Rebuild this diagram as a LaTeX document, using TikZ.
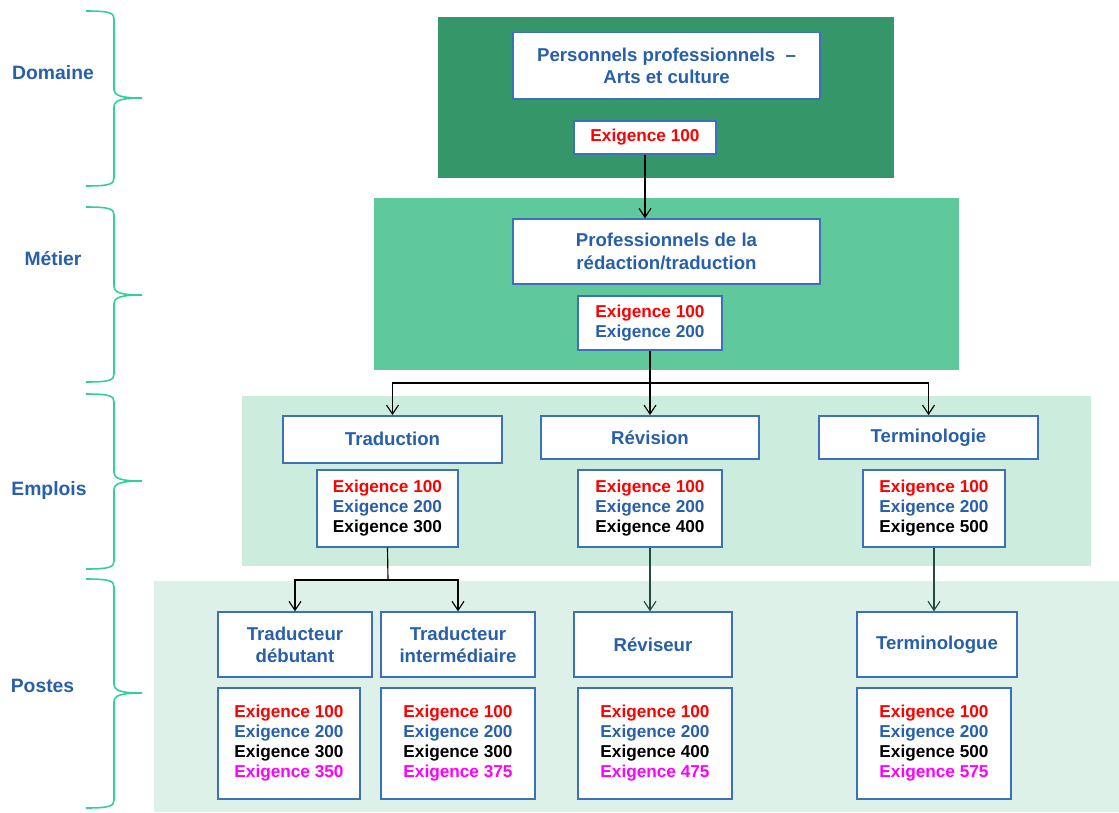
\documentclass[tikz,border=0pt]{standalone}
\usepackage{fontspec}
\setmainfont{Liberation Sans}
\usepackage{tikz}
\usetikzlibrary{arrows.meta}

\definecolor{txtblue}{RGB}{40,95,170}
\definecolor{boxblue}{RGB}{60,112,185}
\definecolor{exred}{RGB}{255,0,0}
\definecolor{exmag}{RGB}{255,0,255}
\definecolor{bracegreen}{RGB}{50,208,150}
\definecolor{bandone}{RGB}{52,150,105}
\definecolor{bandtwo}{RGB}{95,201,155}
\definecolor{bandthree}{RGB}{204,236,222}
\definecolor{bandfour}{RGB}{221,241,233}
\definecolor{linkgreen}{RGB}{35,75,65}

\newcommand{\req}[2]{\textcolor{#1}{Exigence #2}}

\tikzset{
  box/.style 2 args={draw=boxblue,fill=white,line width=0.8pt,inner sep=0pt,
    minimum width=#1cm,minimum height=#2cm,align=center},
  titre/.style={text=txtblue,font=\bfseries\fontsize{10.6}{12.6}\selectfont},
  exig/.style={font=\bfseries\fontsize{9.8}{11.4}\selectfont},
  niveau/.style={text=txtblue,font=\bfseries\fontsize{11}{13}\selectfont},
  brace/.style={draw=bracegreen,line width=0.9pt},
  link/.style={line width=0.65pt,-{Straight Barb[length=0.18cm,width=0.24cm]}},
}

\begin{document}
\begin{tikzpicture}[x=0.02cm,y=-0.02cm]
 \useasboundingbox[fill=white] (0,0) rectangle (1119,812);
 % bands
 \fill[bandone] (438,17) rectangle (894,178);
 \fill[bandtwo] (374,198) rectangle (959,370);
 \fill[bandthree] (242,396) rectangle (1091,566);
 \fill[bandfour] (154,581) rectangle (1119,812);
 % braces and levels
 \foreach \t/\m/\b in {11/98/186, 207/295/382, 394/481/569, 579/693/808}
   \draw[brace] (86,\t) .. controls (110,\t) and (114,\t+2) .. (114,\t+8) -- (114,\m-9)
     .. controls (114,\m-2) and (122,\m) .. (142,\m) .. controls (122,\m) and (114,\m+2) .. (114,\m+9)
     -- (114,\b-8) .. controls (114,\b-2) and (110,\b) .. (86,\b);
 \node[niveau] (ldom) at (53,73) {Domaine};
 \node[niveau] (lmet) at (53,259) {Métier};
 \node[niveau] (lemp) at (49,490) {Emplois};
 \node[niveau] (lpos) at (42.5,686) {Postes};
 % domaine
 \node[box={6.14}{1.34},titre] (dom) at (666.5,65.7) {Personnels professionnels \ –\\Arts et culture};
 \node[box={2.84}{0.66},exig] (domex) at (645,137.3) {\req{exred}{100}};
 % metier
 \node[box={6.14}{1.30},titre] (met) at (666.5,251.5) {Professionnels de la\\rédaction/traduction};
 \node[box={2.88}{1.08},exig] (metex) at (650,323) {\req{exred}{100}\\\req{txtblue}{200}};
 % emplois
 \node[box={4.38}{0.94},titre] (trad) at (392.5,439.3) {Traduction};
 \node[box={4.36}{0.86},titre] (rev) at (650,437.3) {Révision};
 \node[box={4.38}{0.86},titre] (term) at (928.5,437.3) {Terminologie};
 \node[box={2.82}{1.54},exig] (tradex) at (387.5,508.5) {\req{exred}{100}\\\req{txtblue}{200}\\\req{black}{300}};
 \node[box={2.88}{1.54},exig] (revex) at (650,508.5) {\req{exred}{100}\\\req{txtblue}{200}\\\req{black}{400}};
 \node[box={2.84}{1.54},exig] (termex) at (934,508.5) {\req{exred}{100}\\\req{txtblue}{200}\\\req{black}{500}};
 % postes
 \node[box={3.08}{1.30},titre] (deb) at (295,644.5) {Traducteur\\débutant};
 \node[box={3.08}{1.30},titre] (inter) at (458,644.5) {Traducteur\\intermédiaire};
 \node[box={3.16}{1.30},titre] (revr) at (653,644.5) {Réviseur};
 \node[box={3.20}{1.30},titre] (termr) at (937,644.5) {Terminologue};
 \node[box={2.84}{2.22},exig] (debex) at (289,743.3) {\req{exred}{100}\\\req{txtblue}{200}\\\req{black}{300}\\\req{exmag}{350}};
 \node[box={3.08}{2.22},exig] (interex) at (458,743.3) {\req{exred}{100}\\\req{txtblue}{200}\\\req{black}{300}\\\req{exmag}{375}};
 \node[box={3.08}{2.22},exig] (revrex) at (655,743.3) {\req{exred}{100}\\\req{txtblue}{200}\\\req{black}{400}\\\req{exmag}{475}};
 \node[box={3.08}{2.22},exig] (termrex) at (934,743.3) {\req{exred}{100}\\\req{txtblue}{200}\\\req{black}{500}\\\req{exmag}{575}};
 % links
 \coordinate (j1) at (650,383);
 \coordinate (j2) at (388,580);
 \draw[link] (domex.south) -- (domex.south |- met.north);
 \draw[line width=0.65pt] (metex.south) -- (j1);
 \draw[link] (j1) -| (trad.north);
 \draw[link] (j1) -- (j1 |- rev.north);
 \draw[link] (j1) -| (term.north);
 \draw[line width=0.65pt] (tradex.south) -- (j2);
 \draw[link] (j2) -| (deb.north);
 \draw[link] (j2) -| (inter.north);
 \draw[link,linkgreen] (revex.south) -- (revex.south |- revr.north);
 \draw[link,linkgreen] (termex.south) -- (termex.south |- termr.north);
\end{tikzpicture}
\end{document}
